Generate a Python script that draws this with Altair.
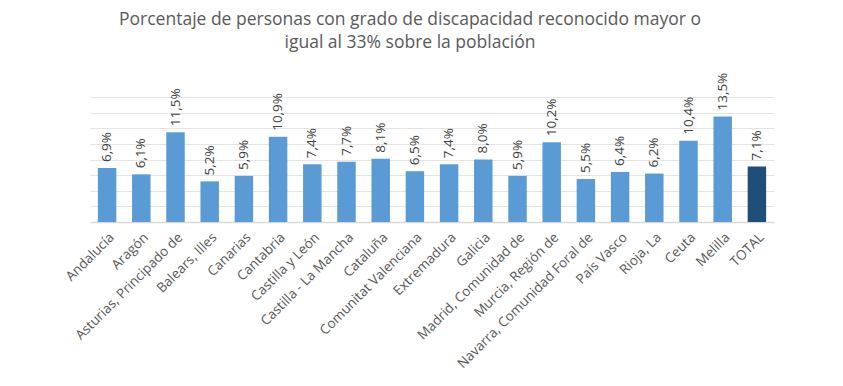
import altair as alt
import pandas as pd

regiones = ["Andalucía", "Aragón", "Asturias, Principado de", "Balears, Illes", "Canarias",
            "Cantabria", "Castilla y León", "Castilla - La Mancha", "Cataluña",
            "Comunitat Valenciana", "Extremadura", "Galicia", "Madrid, Comunidad de",
            "Murcia, Región de", "Navarra, Comunidad Foral de", "País Vasco", "Rioja, La",
            "Ceuta", "Melilla", "TOTAL"]
valores = [6.9, 6.1, 11.5, 5.2, 5.9, 10.9, 7.4, 7.7, 8.1, 6.5, 7.4, 8.0, 5.9, 10.2,
           5.5, 6.4, 6.2, 10.4, 13.5, 7.1]
etiquetas = ["6,9%", "6,1%", "11,5%", "5,2%", "5,9%", "10,9%", "7,4%", "7,7%", "8,1%",
             "6,5%", "7,4%", "8,0%", "5,9%", "10,2%", "5,5%", "6,4%", "6,2%", "10,4%",
             "13,5%", "7,1%"]
tipo = ["region"] * 19 + ["total"]
gridvals = [0, 2, 4, 6, 8, 10, 12, 14, 16]

df = pd.DataFrame({"region": regiones, "valor": valores, "etiqueta": etiquetas, "tipo": tipo})

x = alt.X("region:N", sort=regiones, title=None,
          scale=alt.Scale(paddingInner=0.46, paddingOuter=0.23),
          axis=alt.Axis(labelAngle=-45, labelFont="Open Sans", labelFontSize=13.5,
                        labelColor="#595959", ticks=False, labelPadding=8,
                        domainColor="#D9D9D9", domainWidth=1.5, labelLimit=300))
y = alt.Y("valor:Q", title=None, scale=alt.Scale(domain=[0, 16], nice=False),
          axis=alt.Axis(labels=False, ticks=False, domain=False, values=gridvals,
                        gridColor="#E4E4E4", gridWidth=1))

base = alt.Chart(df).encode(x=x, y=y)

bars = base.mark_bar().encode(
    color=alt.Color("tipo:N", scale=alt.Scale(domain=["region", "total"],
                                              range=["#5B9BD5", "#1F4E79"]), legend=None),
)

text = base.mark_text(angle=270, align="left", baseline="middle", dx=6,
                      font="Open Sans", fontSize=13.5, color="#404040").encode(
    text="etiqueta:N")

chart = alt.layer(bars, text).properties(
    width=684, height=125,
    autosize=alt.AutoSizeParams(type="none"),
    padding={"left": 82, "top": 89, "right": 61, "bottom": 156},
    title=alt.TitleParams(
        ["Porcentaje de personas con grado de discapacidad reconocido mayor o",
         "igual al 33% sobre la población"],
        font="Open Sans", fontSize=17.5, fontWeight="normal", color="#595959",
        anchor="middle", dx=-22, offset=21, lineHeight=23),
).configure_view(stroke=None)

chart.save("out.html", embed_options={"renderer": "svg", "actions": False})
